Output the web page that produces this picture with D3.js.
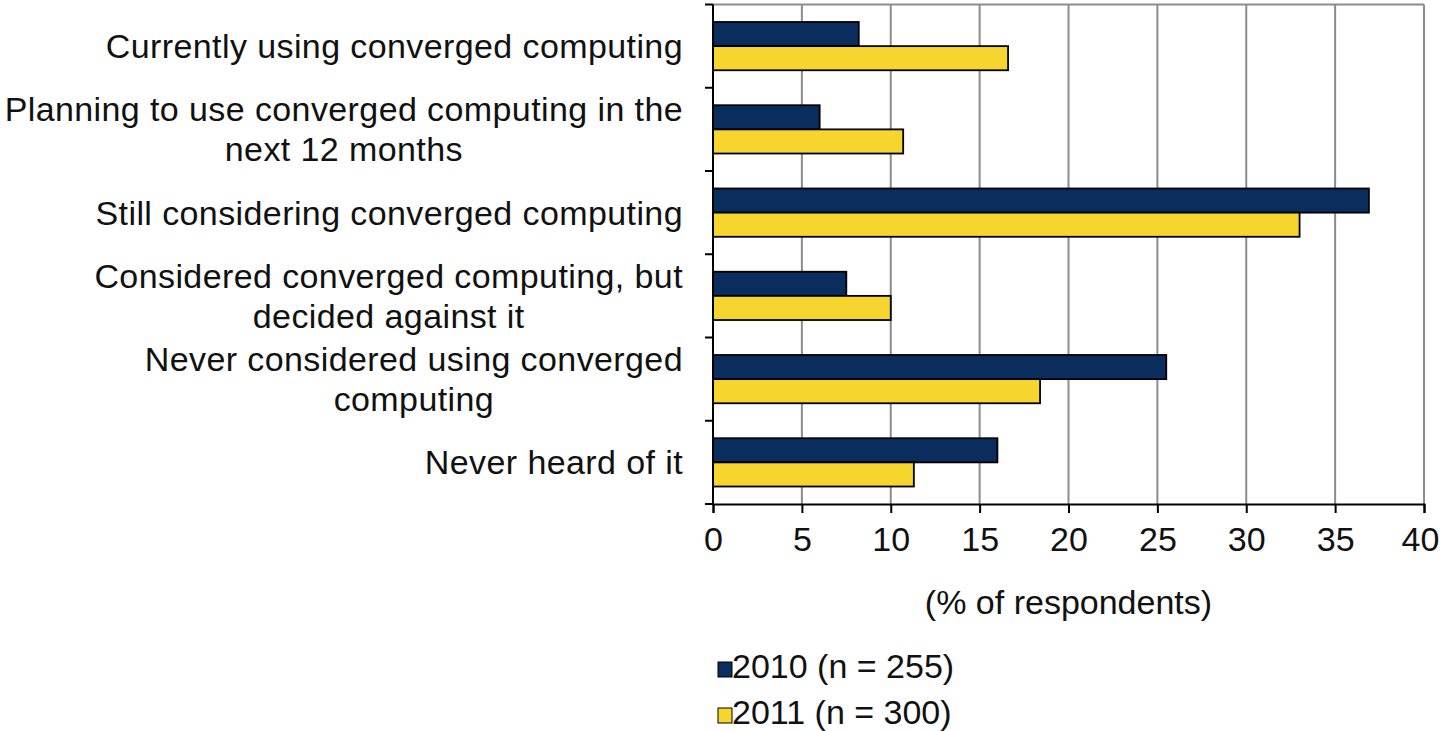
<!DOCTYPE html>
<html>
<head>
<meta charset="utf-8">
<script src="https://cdn.jsdelivr.net/npm/d3@7"></script>
<style>
  body { margin: 0; background: #fff; }
  text { font-family: "Liberation Sans", Arial, sans-serif; fill: #111; }
</style>
</head>
<body>
<svg id="chart"></svg>
<script>
// data
const categories = [
  ["Currently using converged computing"],
  ["Planning to use converged computing in the", "next 12 months"],
  ["Still considering converged computing"],
  ["Considered converged computing, but", "decided against it"],
  ["Never considered using converged", "computing"],
  ["Never heard of it"]
];
const series = ["2010 (n = 255)", "2011 (n = 300)"];
const values2010 = [8.2, 6.0, 36.9, 7.5, 25.5, 16.0];
const values2011 = [16.6, 10.7, 33.0, 10.0, 18.4, 11.3];
const xTicks = [0, 5, 10, 15, 20, 25, 30, 35, 40];
const colors = ["#0a2d5e", "#f6d52e"];

const W = 1441, H = 731;
const margin = { top: 4.5, right: 17, bottom: 227, left: 713 };
const width = W - margin.left - margin.right, height = H - margin.top - margin.bottom;
const fs = 34;

const svg = d3.select('#chart').attr('width', W).attr('height', H);
const g = svg.append('g').attr('transform', `translate(${margin.left},${margin.top})`);

const x = d3.scaleLinear().domain([0, 40]).range([0, width]);
const y = d3.scaleBand().domain(d3.range(categories.length)).range([0, height]).paddingInner(0.42).paddingOuter(0.21);
const ySub = d3.scaleBand().domain([0, 1]).range([0, y.bandwidth()]);

// gridlines + frame
g.selectAll('.grid').data(xTicks.slice(1)).join('line')
  .attr('x1', d => x(d)).attr('x2', d => x(d)).attr('y1', 0).attr('y2', height)
  .attr('stroke', '#8c8c8c').attr('stroke-width', 2);
g.append('line').attr('x1', 0).attr('x2', width).attr('y1', 0).attr('y2', 0).attr('stroke', '#8c8c8c').attr('stroke-width', 2);

// bars
const rows = g.selectAll('.row').data(categories).join('g').attr('transform', (d, i) => `translate(0,${y(i)})`);
[values2010, values2011].forEach((vals, s) => {
  rows.append('rect')
    .attr('x', 0).attr('y', ySub(s))
    .attr('width', (d, i) => x(vals[i])).attr('height', ySub.bandwidth())
    .attr('fill', colors[s]).attr('stroke', '#000').attr('stroke-width', 1.8);
});

// left axis with ticks at category boundaries
g.append('line').attr('x1', 0).attr('x2', 0).attr('y1', 0).attr('y2', height).attr('stroke', '#000').attr('stroke-width', 2);
g.selectAll('.ytick').data(d3.range(categories.length + 1)).join('line')
  .attr('x1', -8).attr('x2', 0).attr('y1', d => d * height / categories.length).attr('y2', d => d * height / categories.length)
  .attr('stroke', '#000').attr('stroke-width', 2);

// bottom axis
const xAxis = g.append('g').attr('transform', `translate(0,${height})`)
  .call(d3.axisBottom(x).tickValues(xTicks).tickSize(9).tickPadding(14));
xAxis.select('.domain').attr('stroke', '#000').attr('stroke-width', 2);
xAxis.selectAll('.tick line').attr('stroke', '#000').attr('stroke-width', 2);
xAxis.selectAll('.tick text').attr('font-size', fs).attr('font-family', '"Liberation Sans", Arial, sans-serif').attr('fill', '#111')
  .attr('dx', d => d === 40 ? -4 : 0);

g.append('text').attr('x', width / 2).attr('y', height + 110).attr('text-anchor', 'middle')
  .attr('font-size', fs).text('(% of respondents)');

// category labels: centred block, right aligned to the axis
const labelRight = -30;
categories.forEach((lines, i) => {
  const cy = y(i) + y.bandwidth() / 2;
  const lg = g.append('g');
  const ts = lines.map((t, k) => lg.append('text')
    .attr('font-size', fs).attr('letter-spacing', 0.4)
    .attr('text-anchor', 'middle')
    .attr('y', cy + 12 + (k - (lines.length - 1) / 2) * 40)
    .text(t));
  const maxW = d3.max(ts, t => t.node().getComputedTextLength());
  ts.forEach(t => t.attr('x', labelRight - maxW / 2));
});

// legend
const legend = svg.append('g').attr('transform', 'translate(718,662)');
series.forEach((s, i) => {
  const row = legend.append('g').attr('transform', `translate(0,${i * 46})`);
  row.append('rect').attr('width', 14).attr('height', 15).attr('fill', colors[i]).attr('stroke', '#000').attr('stroke-width', 1);
  row.append('text').attr('x', 14).attr('y', 16).attr('font-size', fs).text(s);
});
</script>
</body>
</html>
